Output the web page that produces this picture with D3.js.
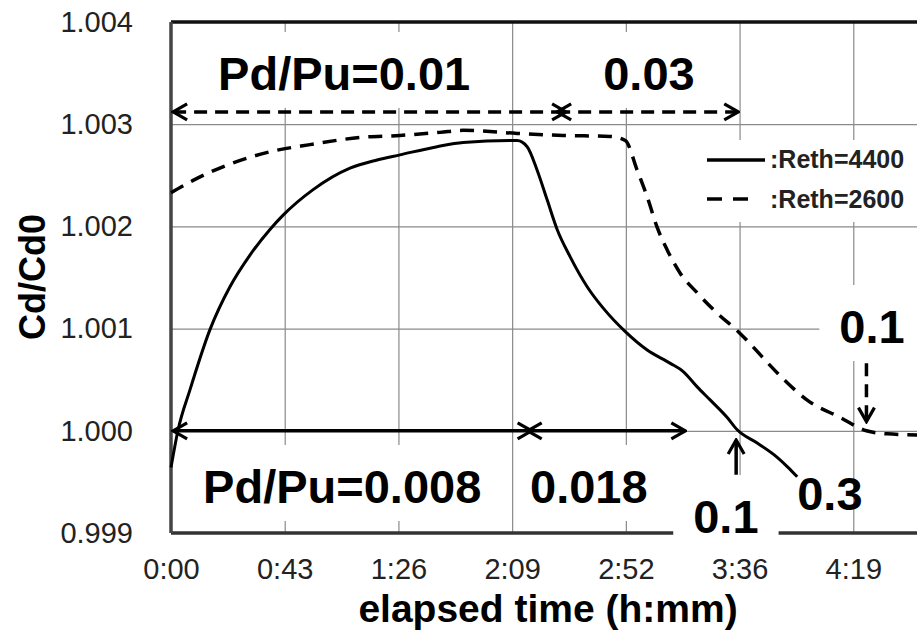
<!DOCTYPE html>
<html>
<head>
<meta charset="utf-8">
<script src="https://cdn.jsdelivr.net/npm/d3@7"></script>
<style>
  body { margin: 0; background: #fff; }
  svg { display: block; font-family: "Liberation Sans", Arial, sans-serif; }
  .tick text { fill: #222; }
</style>
</head>
<body>
<svg id="chart" width="917" height="631"></svg>
<script>
// elapsed time in minutes, Cd/Cd0
var timeA = [0, 2.7, 7.2, 14.8, 22.4, 30, 37.6, 42.6, 54, 68, 78.3, 87, 101.1, 111, 131.5, 135.3, 139.1, 142.9, 146.7, 151.7,
  158.1, 164.2, 172.6, 180.9, 189.7, 194.6, 199.9, 204.9, 211.3, 215.1, 222.7, 230.3, 234.1, 237.9];
var cdA = [0.99964, 1.00001, 1.00040, 1.00099, 1.00141, 1.00172, 1.00197, 1.00211, 1.00236, 1.00257, 1.00265, 1.00270, 1.00278,
  1.00282, 1.00284, 1.00278, 1.00255, 1.00226, 1.00197, 1.00170, 1.00141, 1.00120, 1.00097, 1.00079, 1.00066, 1.00058,
  1.00043, 1.00030, 1.00013, 1.00001, 0.99988, 0.99974, 0.99965, 0.99955];

var timeB = [0, 8.4, 21.3, 37.6, 52.8, 71.8, 87, 102.2, 111, 131.5, 149, 166.9, 172.6, 177.1, 180.9, 184.7, 188.5, 193.5,
  199.9, 207.5, 215.5, 220.1, 226.5, 234.1, 241.7, 254.3, 264.2, 272.1, 283.5, 295];
var cdB = [1.00233, 1.00245, 1.00260, 1.00273, 1.00280, 1.00287, 1.00289, 1.00292, 1.00294, 1.00291, 1.00289, 1.00288,
  1.00284, 1.00255, 1.00229, 1.00199, 1.00177, 1.00154, 1.00135, 1.00115, 1.00097, 1.00085, 1.00067, 1.00047, 1.00030,
  1.00013, 1.00000, 0.99997, 0.99996, 0.99995];

var seriesNames = [":Reth=4400", ":Reth=2600"];
var xTicks = [0, 43.2, 86.4, 129.6, 172.8, 216, 259.2];
var yTicks = [0.999, 1.000, 1.001, 1.002, 1.003, 1.004];

// Pd/Pu annotations
var labelText = ["Pd/Pu=0.01", "0.03", "Pd/Pu=0.008", "0.018", "0.1", "0.3", "0.1"];
var labelTime = [17.9, 164.2, 12.2, 136.4, 198.4, 237.9, 253.9];
var labelCd = [1.003335, 1.003335, 0.999294, 0.999294, 0.999, 0.999225, 1.000859];
var labelBox = [true, true, true, true, true, false, true];

var arrowX1 = [0.8, 146.7, 0.8, 135.5, 214.7, 264.2];
var arrowX2 = [150.1, 215.5, 137, 195.4, 214.7, 264.2];
var arrowY1 = [1.00312, 1.00312, 1.0000, 1.0000, 0.99957, 1.00066];
var arrowY2 = [1.00312, 1.00312, 1.0000, 1.0000, 0.99991, 1.00009];
var arrowDashed = [true, true, false, false, false, true];
var arrowBoth = [true, true, true, true, false, false];

var svg = d3.select("#chart");

var x = d3.scaleLinear().domain([0, 302.4]).range([171, 967]);
var y = d3.scaleLinear().domain([0.999, 1.004]).range([533, 22]);

var fmtTime = function (m) {
  var h = Math.floor(m / 60), mm = Math.floor(m % 60 + 1e-6);
  return h + ":" + (mm < 10 ? "0" + mm : mm);
};

// arrow head
var defs = svg.append("defs");
defs.append("marker")
  .attr("id", "head")
  .attr("viewBox", "-16 -10 18 20")
  .attr("refX", 0).attr("refY", 0)
  .attr("markerWidth", 18).attr("markerHeight", 20)
  .attr("markerUnits", "userSpaceOnUse")
  .attr("orient", "auto-start-reverse")
  .append("path")
  .attr("d", "M-14,-8L0,0L-14,8")
  .attr("fill", "none").attr("stroke", "#000")
  .attr("stroke-width", 3.2).attr("stroke-dasharray", "none");

// grid
svg.append("g")
  .attr("transform", "translate(0,533)")
  .call(d3.axisBottom(x).tickValues(xTicks.slice(1)).tickSize(-511).tickFormat(""))
  .call(function (g) { g.select(".domain").remove(); })
  .selectAll("line").attr("stroke", "#8a8a8a").attr("stroke-width", 1.2);

svg.append("g")
  .attr("transform", "translate(171,0)")
  .call(d3.axisLeft(y).tickValues(yTicks.slice(1, 5)).tickSize(-800).tickFormat(""))
  .call(function (g) { g.select(".domain").remove(); })
  .selectAll("line").attr("stroke", "#8a8a8a").attr("stroke-width", 1.2);

// frame
svg.append("line").attr("x1", x(0)).attr("x2", 967).attr("y1", y(1.004)).attr("y2", y(1.004))
  .attr("stroke", "#111").attr("stroke-width", 3.5);
svg.append("line").attr("x1", x(0)).attr("x2", 967).attr("y1", y(0.999)).attr("y2", y(0.999))
  .attr("stroke", "#333").attr("stroke-width", 3.5);
svg.append("line").attr("x1", x(0)).attr("x2", x(0)).attr("y1", y(1.004)).attr("y2", y(0.999))
  .attr("stroke", "#444").attr("stroke-width", 3.5);

// axes labels
var xAxis = svg.append("g")
  .attr("transform", "translate(0,533)")
  .call(d3.axisBottom(x).tickValues(xTicks).tickSize(0).tickPadding(25).tickFormat(fmtTime));
xAxis.select(".domain").remove();
xAxis.selectAll("text").attr("font-size", 29).attr("font-family", "Liberation Sans, Arial, sans-serif");

var yAxis = svg.append("g")
  .attr("transform", "translate(171,0)")
  .call(d3.axisLeft(y).tickValues(yTicks).tickSize(0).tickPadding(38).tickFormat(d3.format(".3f")));
yAxis.select(".domain").remove();
yAxis.selectAll("text").attr("font-size", 29).attr("font-family", "Liberation Sans, Arial, sans-serif");

svg.append("text")
  .attr("x", 548).attr("y", 622)
  .attr("text-anchor", "middle")
  .attr("font-size", 39).attr("font-weight", "bold")
  .text("elapsed time (h:mm)");

svg.append("text")
  .attr("transform", "translate(45,277) rotate(-90)")
  .attr("text-anchor", "middle")
  .attr("font-size", 36).attr("font-weight", "bold")
  .text("Cd/Cd0");

// white boxes behind labels
var boxLayer = svg.append("g");
var curveLayer = svg.append("g");
var textLayer = svg.append("g");

var labels = textLayer.selectAll("text.lab")
  .data(labelText)
  .enter().append("text")
  .attr("class", "lab")
  .attr("x", function (d, i) { return x(labelTime[i]); })
  .attr("y", function (d, i) { return y(labelCd[i]); })
  .attr("font-size", 47).attr("font-weight", "bold")
  .text(function (d) { return d; });

labels.each(function (d, i) {
  if (!labelBox[i]) { return; }
  var b = this.getBBox();
  var px = (d == "0.1") ? 20 : 14;
  boxLayer.append("rect")
    .attr("x", b.x - px).attr("y", b.y - 15)
    .attr("width", b.width + 2 * px).attr("height", b.height + 23)
    .attr("fill", "#fff");
});

// curves
var line = d3.line()
  .x(function (d) { return x(d[0]); })
  .y(function (d) { return y(d[1]); })
  .curve(d3.curveMonotoneX);

curveLayer.append("path")
  .datum(d3.zip(timeA, cdA))
  .attr("d", line)
  .attr("fill", "none").attr("stroke", "#000").attr("stroke-width", 3);

curveLayer.append("path")
  .datum(d3.zip(timeB, cdB))
  .attr("d", line)
  .attr("fill", "none").attr("stroke", "#000").attr("stroke-width", 3.5)
  .attr("stroke-dasharray", "14,9");

// arrows
curveLayer.selectAll("line.arrow")
  .data(arrowX1)
  .enter().append("line")
  .attr("class", "arrow")
  .attr("x1", function (d, i) { return x(arrowX1[i]); })
  .attr("x2", function (d, i) { return x(arrowX2[i]); })
  .attr("y1", function (d, i) { return y(arrowY1[i]); })
  .attr("y2", function (d, i) { return y(arrowY2[i]); })
  .attr("stroke", "#000").attr("stroke-width", 3.5)
  .attr("stroke-dasharray", function (d, i) { return arrowDashed[i] ? "13,8" : null; })
  .attr("marker-end", "url(#head)")
  .attr("marker-start", function (d, i) { return arrowBoth[i] ? "url(#head)" : null; });

// legend
var legend = svg.append("g").attr("transform", "translate(700,140)");
legend.append("rect").attr("width", 217).attr("height", 82).attr("fill", "#fff");
legend.append("line").attr("x1", 7).attr("x2", 65).attr("y1", 20).attr("y2", 20)
  .attr("stroke", "#000").attr("stroke-width", 3.5);
legend.append("line").attr("x1", 7).attr("x2", 50).attr("y1", 59).attr("y2", 59)
  .attr("stroke", "#000").attr("stroke-width", 3.5).attr("stroke-dasharray", "15,11");
legend.selectAll("text")
  .data(seriesNames)
  .enter().append("text")
  .attr("x", 70)
  .attr("y", function (d, i) { return 28 + i * 40; })
  .attr("font-size", 25).attr("font-weight", "bold").attr("fill", "#222")
  .text(function (d) { return d; });
</script>
</body>
</html>
